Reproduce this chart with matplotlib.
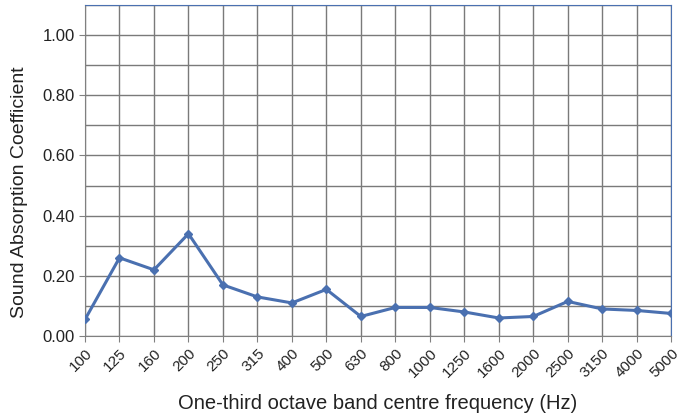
import numpy as np
import matplotlib.pyplot as plt

plt.rcParams['font.family'] = ['Liberation Sans', 'DejaVu Sans']

# One-third octave band centre frequencies and measured absorption
bandas = ["100", "125", "160", "200", "250", "315", "400", "500", "630", "800",
          "1000", "1250", "1600", "2000", "2500", "3150", "4000", "5000"]
coef_absorcion = [0.055, 0.26, 0.22, 0.34, 0.17, 0.13, 0.11, 0.155, 0.065, 0.095,
                  0.095, 0.08, 0.06, 0.065, 0.115, 0.09, 0.085, 0.075]
marcas_y = [0.0, 0.2, 0.4, 0.6, 0.8, 1.0]

fig = plt.figure(figsize=(6.8, 4.19), dpi=100)
ax = fig.add_axes([0.125, 0.198, 0.862, 0.79])

x = np.arange(len(bandas))
ax.plot(x, coef_absorcion, color='#4a70b0', linewidth=2.2, marker='D',
        markersize=4, zorder=3)

ax.set_xlim(0, len(bandas) - 1)
ax.set_ylim(0, 1.1)
ax.set_xticks(x)
ax.set_xticklabels(bandas, rotation=45, ha='right', rotation_mode='anchor', fontsize=11)
ax.set_yticks(marcas_y)
ax.set_yticklabels([f"{v:.2f}" for v in marcas_y], fontsize=12)
ax.set_yticks(np.arange(0, 1.11, 0.1), minor=True)
ax.tick_params(axis='y', which='minor', length=0)
ax.tick_params(axis='both', which='major', length=4, color='#808080', colors='#222222')
ax.tick_params(axis='x', pad=3)

# Rejilla: una línea por banda y cada 0.1
ax.grid(True, which='both', color='#7a7a7a', linewidth=1)
ax.set_axisbelow(True)

for lado in ('left', 'bottom'):
    ax.spines[lado].set_color('#808080')
for lado in ('top', 'right'):
    ax.spines[lado].set_color('#4a70b0')

ax.set_xlabel("One-third octave band centre frequency (Hz)", fontsize=14.5, color='#222222')
ax.set_ylabel("Sound Absorption Coefficient", fontsize=14, color='#222222')
ax.xaxis.set_label_coords(0.5, -0.175)
ax.yaxis.set_label_coords(-0.097, 0.435)

fig.savefig("out.png", dpi=100)
